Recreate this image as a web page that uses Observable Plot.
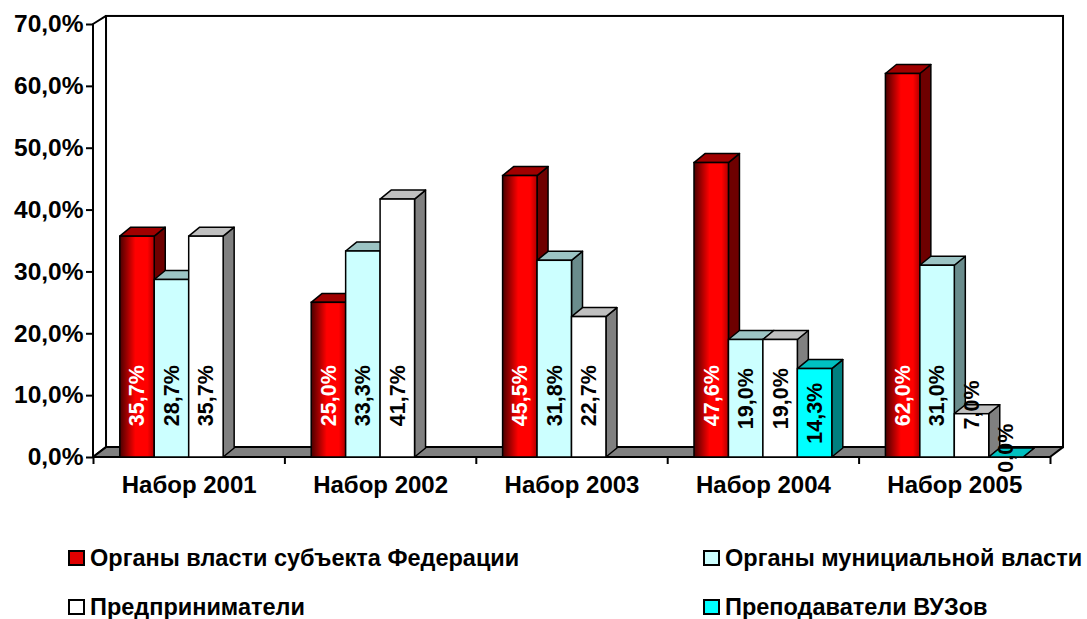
<!DOCTYPE html>
<html><head><meta charset="utf-8">
<script src="https://cdn.jsdelivr.net/npm/d3@7"></script>
<script src="https://cdn.jsdelivr.net/npm/@observablehq/plot@0.6"></script>
<style>
body{margin:0;background:#fff;font-family:"Liberation Sans",Arial,sans-serif;}
#chart svg{display:block;}
#legend{position:relative;height:94px;font-weight:bold;font-size:23.5px;color:#000;}
.item{position:absolute;display:flex;align-items:center;gap:5px;white-space:nowrap;height:28px;}
.sw{width:17px;height:16px;border:2px solid #000;box-sizing:border-box;}
</style></head><body><div id="chart"></div><div id="legend"></div>
<script>
const categories = ["Набор 2001","Набор 2002","Набор 2003","Набор 2004","Набор 2005"];
const seriesNames = ["Органы власти субъекта Федерации","Органы мунициальной власти","Предприниматели","Преподаватели ВУЗов"];
const federal   = [35.7, 25.0, 45.5, 47.6, 62.0];
const municipal = [28.7, 33.3, 31.8, 19.0, 31.0];
const business  = [35.7, 41.7, 22.7, 19.0, 7.0];
const teachers  = [null, null, null, 14.3, 0.0];
const yTicks = [0, 10, 20, 30, 40, 50, 60, 70];

// styles
const frontColors = ["url(#redGrad)", "#CCFFFF", "#FFFFFF", "#00FFFF"];
const topColors   = ["#A00000", "#9CC4C4", "#C0C0C0", "#00C0C0"];
const sideColors  = ["#6E0000", "#6A8C8C", "#808080", "#008080"];
const swatchColors = ["#E00000", "#CCFFFF", "#FFFFFF", "#00FFFF"];

// 3D geometry (in scale units)
const gOff = 0.14, bw = 0.18, bdx = 0.0575, bdy = 1.45;
const wdx = 0.068, floorDy = 1.6, topWallDy = 1.3;
const nCat = categories.length;

const fmt = v => v.toFixed(1).replace(".", ",") + "%";
const values = [federal, municipal, business, teachers];
const bars = [];
values.forEach((arr, j) => arr.forEach((v, i) => {
  if (v != null) bars.push({id: j + "-" + i, i, j, v, x0: i + gOff + j * bw});
}));

const topPts = bars.flatMap(b => [
  {id: b.id, j: b.j, y: b.v, x1: b.x0, x2: b.x0 + bw},
  {id: b.id, j: b.j, y: b.v + bdy, x1: b.x0 + bdx, x2: b.x0 + bw + bdx}
]);
const sidePts = bars.flatMap(b => [
  {id: b.id, j: b.j, x: b.x0 + bw, y1: 0, y2: b.v},
  {id: b.id, j: b.j, x: b.x0 + bw + bdx, y1: bdy, y2: b.v + bdy}
]);
const floorPts = [
  {y: 0, x1: 0, x2: nCat},
  {y: floorDy, x1: wdx, x2: nCat + wdx}
];
const leftWall = [
  {x: 0, y1: 0, y2: yTicks[yTicks.length - 1]},
  {x: wdx, y1: floorDy, y2: yTicks[yTicks.length - 1] + topWallDy}
];
// label anchor rule: near the base for tall bars, mid-bar for medium, just above for short
const labelY = v => v >= 20 ? 10 : v >= 10 ? v / 2 : v + 1.5;

const H = 525;
const chart = Plot.plot({
  width: 1087, height: H,
  marginLeft: 93, marginRight: 37, marginTop: 24, marginBottom: H - 457,
  style: {fontFamily: "'Liberation Sans', Arial, sans-serif", background: "#fff", color: "#000"},
  x: {domain: [0, nCat], axis: null},
  y: {domain: [0, 70], axis: null},
  color: {type: "identity"},
  marks: [
    () => {
      const defs = d3.create("svg:defs");
      const g = defs.append("linearGradient").attr("id", "redGrad")
        .attr("x1", 0).attr("x2", 1).attr("y1", 0).attr("y2", 0);
      [[0, "#4a0000"], [0.45, "#ff0000"], [0.8, "#ff0000"], [1, "#b00000"]]
        .forEach(([o, c]) => g.append("stop").attr("offset", o).attr("stop-color", c));
      return defs.node();
    },
    // back wall
    Plot.rect([0], {x1: wdx, x2: nCat + wdx, y1: floorDy, y2: 70 + topWallDy, fill: "#fff", stroke: "#000", strokeWidth: 2}),
    // left wall
    Plot.areaY(leftWall, {x: "x", y1: "y1", y2: "y2", fill: "#fff", stroke: "#000", strokeWidth: 2}),
    // floor
    Plot.areaX(floorPts, {y: "y", x1: "x1", x2: "x2", fill: "#808080", stroke: "#000", strokeWidth: 2}),
    // axes
    Plot.axisY(yTicks, {tickSize: 7, tickPadding: 3, tickFormat: fmt, fontSize: 24.5, fontWeight: "bold", strokeWidth: 2, label: null}),
    Plot.axisX(d3.range(nCat + 1), {tickSize: 7, tickFormat: () => "", strokeWidth: 2, label: null}),
    Plot.axisX(categories.map((c, i) => i + 0.5), {tickSize: 0, tickPadding: 18, tickFormat: d => categories[Math.floor(d)], fontSize: 24, fontWeight: "bold", label: null}),
    // bars
    Plot.areaY(sidePts, {x: "x", y1: "y1", y2: "y2", z: "id", fill: d => sideColors[d.j], stroke: "#000", strokeWidth: 1.5}),
    Plot.areaX(topPts, {y: "y", x1: "x1", x2: "x2", z: "id", fill: d => topColors[d.j], stroke: "#000", strokeWidth: 1.5}),
    Plot.rect(bars, {x1: "x0", x2: d => d.x0 + bw, y1: 0, y2: "v", fill: d => frontColors[d.j], stroke: "#000", strokeWidth: 1.5}),
    // labels
    Plot.text(bars, {x: d => d.x0 + bw / 2, y: d => labelY(d.v), text: d => fmt(d.v), rotate: -90,
      fill: d => d.j === 0 ? "#fff" : "#000", fontSize: 21.5, fontWeight: "bold"})
  ]
});
document.getElementById("chart").appendChild(chart);

// legend
const legend = d3.select("#legend");
const pos = [[68, 19], [703, 19], [68, 68], [703, 68]];
seriesNames.forEach((name, j) => {
  const it = legend.append("div").attr("class", "item")
    .style("left", pos[j][0] + "px").style("top", pos[j][1] + "px");
  it.append("div").attr("class", "sw").style("background", swatchColors[j]);
  it.append("span").text(name);
});
</script></body></html>
